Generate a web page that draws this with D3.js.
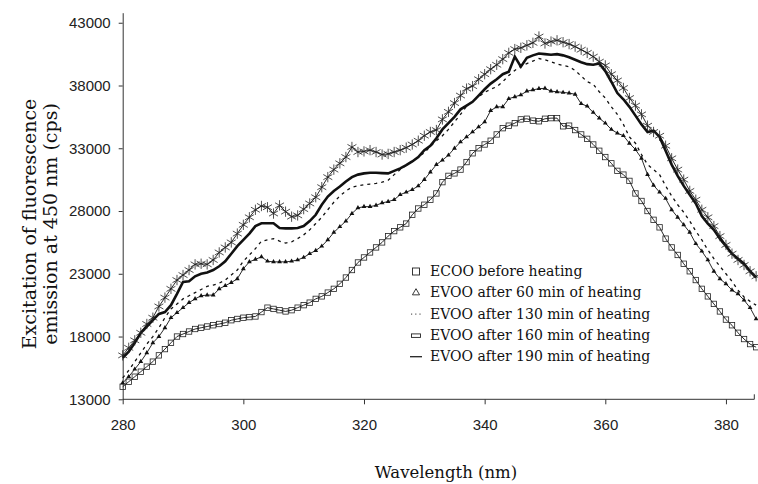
<html>
<head>
    <meta charset="UTF-8">
    <title>Excitation of fluorescence emission</title>
    <script src="https://cdn.jsdelivr.net/npm/d3@7"></script>
    <style>
        body { margin: 0; background: #fff; }
        .axis text { font: 15px "Liberation Sans", Arial, sans-serif; fill: #222; }
        .axis path, .axis line { stroke: #333; stroke-width: 1px; }
        .title { font-family: "DejaVu Serif", serif; fill: #111; }
        .legend text { font: 14px "DejaVu Serif", serif; fill: #111; }
        .series path.line { fill: none; stroke: #111; }
    </style>
</head>
<body>
    <svg width="758" height="484"></svg>
    <script>
        // wavelength, 1 nm steps
        var wavelengths = d3.range(280, 386);

        var ecooBefore = [14000, 14400, 14800, 15200, 15600, 16000, 16500, 17000, 17500, 18000,
            18200, 18400, 18600, 18700, 18800, 18900, 19000, 19100, 19300, 19400,
            19500, 19550, 19600, 19950, 20300, 20200, 20100, 20000, 20100, 20300,
            20500, 20700, 21000, 21200, 21500, 21800, 22200, 22700, 23300, 23900,
            24300, 24700, 25100, 25500, 26000, 26400, 26700, 27000, 27700, 28200,
            28500, 28900, 29400, 30300, 30800, 31000, 31300, 31900, 32600, 33000,
            33300, 33600, 34100, 34600, 34800, 35000, 35300, 35350, 35200, 35150,
            35350, 35400, 35400, 34750, 34800, 34450, 34100, 33750, 33300, 32800,
            32300, 31800, 31200, 30900, 30400, 29400, 28800, 28000, 27300, 26700,
            25800, 25100, 24500, 23800, 23200, 22500, 21800, 21200, 20600, 20000,
            19350, 18900, 18300, 17800, 17400, 17150];

        var evoo60 = [14300, 14800, 15400, 16000, 16700, 17500, 18000, 18700, 19500, 19900,
            20300, 20700, 21000, 21250, 21300, 21300, 21800, 22050, 22300, 22600,
            23400, 23950, 24150, 24350, 24000, 23950, 23950, 23950, 24000, 24100,
            24300, 24600, 24850, 25200, 25700, 26300, 26750, 27200, 27800, 28250,
            28350, 28350, 28450, 28650, 28750, 28900, 29300, 29500, 29700, 30000,
            30500, 31100, 31700, 32050, 32450, 33000, 33500, 33900, 34300, 34700,
            35100, 36000, 36300, 36300, 36950, 37100, 37250, 37550, 37650, 37750,
            37770, 37550, 37500, 37450, 37400, 37300, 36550, 36350, 35850, 35400,
            35000, 34500, 34200, 34000, 33400, 32900, 32200, 30900, 30050, 29500,
            29000, 28100, 27500, 26900, 26300, 25400, 24800, 24100, 23200, 22600,
            22200, 21700, 21400, 20900, 20300, 19400];

        var evoo130 = [14700, 15300, 16000, 16700, 17400, 18000, 18700, 19500, 20200, 20600,
            21000, 21250, 21500, 21750, 22000, 22100, 22250, 22500, 22900, 23300,
            24000, 24500, 25000, 25600, 25700, 25800, 25600, 25450, 25550, 25800,
            26100, 26500, 27000, 27500, 28100, 28700, 29200, 29600, 29900, 30000,
            30100, 30150, 30200, 30300, 30450, 30900, 31300, 31650, 31950, 32300,
            32650, 33150, 33600, 34000, 34500, 35100, 35700, 36350, 36750, 37100,
            37450, 37700, 37900, 38300, 38800, 39200, 39550, 39750, 39950, 40150,
            40050, 39900, 39700, 39600, 39500, 39200, 38750, 38300, 38100, 37500,
            37000, 36300, 35700, 34900, 33900, 33400, 32500, 31700, 31300, 30900,
            30000, 29200, 28500, 27900, 27200, 26400, 25700, 24900, 24200, 23600,
            23000, 22400, 21700, 21150, 20800, 20500];

        var evoo160 = [16300, 16800, 17500, 18300, 18800, 19300, 19800, 19950, 20500, 21400,
            22350, 22400, 22800, 23000, 23100, 23300, 23600, 24000, 24600, 25200,
            25700, 26200, 26800, 27020, 27020, 27020, 26650, 26620, 26620, 26650,
            26800, 27200, 27700, 28500, 29150, 29600, 29950, 30350, 30700, 30900,
            31000, 31050, 31050, 31020, 31000, 31200, 31400, 31650, 31950, 32300,
            32850, 33200, 33800, 34500, 35000, 35500, 36100, 36400, 36700, 37200,
            37700, 38150, 38500, 38900, 39100, 40300, 39500, 40200, 40400, 40550,
            40500, 40450, 40500, 40400, 40250, 40050, 39850, 39700, 39650, 39750,
            39150, 38300, 37400, 36900, 36300, 35600, 34900, 34300, 34400, 33900,
            32800, 31700, 30800, 30000, 29300, 28600, 27600, 27000, 26500, 25800,
            25200, 24600, 24200, 23800, 23200, 22700];

        var evoo190 = [16500, 17100, 17700, 18300, 19000, 19500, 20400, 21100, 21800, 22500,
            22900, 23300, 23750, 23800, 23750, 24100, 24700, 25100, 25500, 26200,
            26900, 27500, 28100, 28400, 28300, 27800, 28450, 27950, 27550, 27650,
            28150, 28600, 29100, 29900, 30700, 31300, 31800, 32300, 33100, 32700,
            32750, 32850, 32700, 32500, 32550, 32700, 32850, 33050, 33300, 33600,
            34000, 34300, 34450, 35300, 35900, 36600, 37200, 37750, 37950, 38500,
            38900, 39300, 39650, 40100, 40600, 40900, 41000, 41200, 41400, 41900,
            41350, 41500, 41600, 41450, 41300, 41100, 40850, 40600, 40300, 39900,
            39600, 38900, 38400, 37800, 37000, 36400, 35700, 34800, 34300, 34000,
            33200, 32200, 31300, 30500, 29600, 28900, 28100, 27500, 26800, 26000,
            25300, 24600, 24100, 23700, 23200, 22800];

        var xTicks = [280, 300, 320, 340, 360, 380];
        var yTicks = [13000, 18000, 23000, 28000, 33000, 38000, 43000];

        var legendLabels = ['ECOO before heating', 'EVOO after 60 min of heating',
            'EVOO after 130 min of heating', 'EVOO after 160 min of heating',
            'EVOO after 190 min of heating'];

        var svg = d3.select('svg');

        var x_scale = d3.scaleLinear().domain([280, 384.7]).range([122.7, 754.3]);
        var y_scale = d3.scaleLinear().domain([13000, 43800]).range([399.3, 12.7]);

        // axes
        svg.append('g')
            .attr('class', 'axis axis-x')
            .attr('transform', 'translate(0,399.3)')
            .call(d3.axisBottom(x_scale).tickValues(xTicks).tickFormat(d3.format('d'))
                .tickSize(5).tickPadding(15).tickSizeOuter(0));

        svg.select('.axis-x .domain').attr('d', 'M122.7,0H754.3V-5');

        svg.append('g')
            .attr('class', 'axis axis-y')
            .attr('transform', 'translate(122.7,0)')
            .call(d3.axisLeft(y_scale).tickValues(yTicks).tickFormat(d3.format('d'))
                .tickSize(4).tickPadding(8).tickSizeOuter(0));

        var line = d3.line()
            .x((d, i) => x_scale(wavelengths[i]))
            .y(d => y_scale(d));

        var series = svg.append('g').attr('class', 'series');

        // ECOO before heating: open squares
        series.append('path').attr('class', 'line')
            .attr('d', line(ecooBefore)).attr('stroke-width', 0.9);
        series.append('g').selectAll('rect')
            .data(ecooBefore)
            .enter().append('rect')
            .attr('x', (d, i) => x_scale(wavelengths[i]) - 2.7)
            .attr('y', d => y_scale(d) - 2.7)
            .attr('width', 5.4).attr('height', 5.4)
            .attr('fill', 'none').attr('stroke', '#222').attr('stroke-width', 0.8);

        // 60 min: small filled triangles
        series.append('path').attr('class', 'line')
            .attr('d', line(evoo60)).attr('stroke-width', 0.9);
        series.append('g').selectAll('path')
            .data(evoo60)
            .enter().append('path')
            .attr('transform', (d, i) => 'translate(' + x_scale(wavelengths[i]) + ',' + y_scale(d) + ')')
            .attr('d', d3.symbol().type(d3.symbolTriangle).size(10))
            .attr('fill', '#111');

        // 130 min: dashed
        series.append('path').attr('class', 'line')
            .attr('d', line(evoo130)).attr('stroke-width', 1.3)
            .attr('stroke-dasharray', '3,4');

        // 160 min: thick solid
        series.append('path').attr('class', 'line')
            .attr('d', line(evoo160)).attr('stroke-width', 2.6);

        // 190 min: asterisks
        series.append('path').attr('class', 'line')
            .attr('d', line(evoo190)).attr('stroke-width', 0.9);
        series.append('g').selectAll('path')
            .data(evoo190)
            .enter().append('path')
            .attr('transform', (d, i) => 'translate(' + x_scale(wavelengths[i]) + ',' + y_scale(d) + ')')
            .attr('d', d3.symbol().type(d3.symbolAsterisk).size(75))
            .attr('fill', 'none').attr('stroke', '#222').attr('stroke-width', 0.8);

        // axis titles
        svg.append('text').attr('class', 'title')
            .attr('x', 446).attr('y', 478)
            .attr('text-anchor', 'middle').attr('font-size', 16.5)
            .text('Wavelength (nm)');

        var yTitle = svg.append('text').attr('class', 'title')
            .attr('transform', 'translate(36,224) rotate(-90)')
            .attr('text-anchor', 'middle').attr('font-size', 19);
        yTitle.append('tspan').attr('x', 0).attr('dy', 0).text('Excitation of fluorescence');
        yTitle.append('tspan').attr('x', 0).attr('dy', 21).text('emission at 450 nm (cps)');

        // legend
        var legend = svg.append('g').attr('class', 'legend')
            .attr('transform', 'translate(416,276)');
        var rows = legend.selectAll('g')
            .data(legendLabels)
            .enter().append('g')
            .attr('transform', (d, i) => 'translate(0,' + (i * 21.3) + ')');
        rows.append('text').attr('x', 14).attr('y', 0).text(d => d);

        var sym = rows.append('g').attr('transform', 'translate(0,-4.5)')
            .attr('fill', 'none').attr('stroke', '#222').attr('stroke-width', 0.9);
        sym.filter((d, i) => i === 0).append('rect')
            .attr('x', -3.5).attr('y', -3.5).attr('width', 7).attr('height', 7);
        sym.filter((d, i) => i === 1).append('path')
            .attr('d', d3.symbol().type(d3.symbolTriangle).size(22));
        sym.filter((d, i) => i === 2).append('line')
            .attr('x1', -5).attr('x2', 6).attr('stroke-dasharray', '1.2,3');
        sym.filter((d, i) => i === 3).append('rect')
            .attr('x', -4.5).attr('y', -1.5).attr('width', 9).attr('height', 3.5);
        sym.filter((d, i) => i === 4).append('line')
            .attr('x1', -6).attr('x2', 6).attr('stroke-width', 1.3);
    </script>
</body>
</html>
